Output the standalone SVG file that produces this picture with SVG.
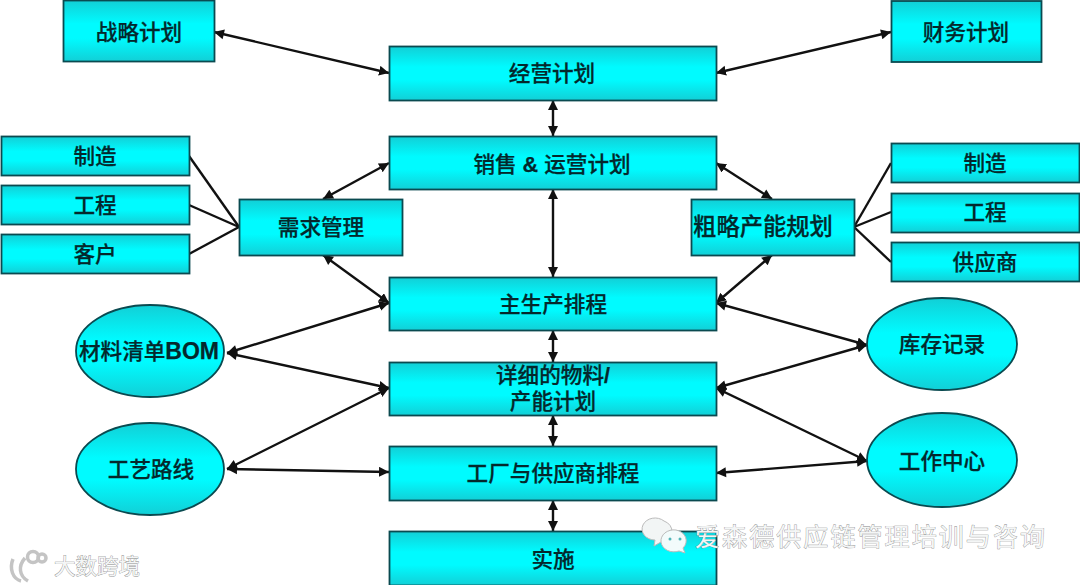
<svg xmlns="http://www.w3.org/2000/svg" width="1080" height="585" viewBox="0 0 1080 585">
<style>
.n{fill:url(#g);stroke:#0a4a50;stroke-width:1.8}
.t{font-family:"Liberation Sans","Noto Sans CJK SC",sans-serif;font-size:21.600px;font-weight:500;fill:#04282c;text-anchor:middle;stroke:#04282c;stroke-width:.25}
.b{font-weight:700}
.c line{stroke:#111;stroke-width:2.400}
.a{marker-start:url(#ms);marker-end:url(#me)}
.w{font-family:"Noto Sans CJK SC",sans-serif;font-size:25px;fill:#f4f6f6;stroke:#8a8a8a;stroke-width:.7;paint-order:stroke}
</style>
<defs>
<linearGradient id="g" x1="0" y1="0" x2="0" y2="1"><stop offset="0" stop-color="#12cfd6"/><stop offset=".38" stop-color="#00fbff"/><stop offset=".62" stop-color="#00fbff"/><stop offset="1" stop-color="#12cfd6"/></linearGradient>
<marker id="me" markerUnits="userSpaceOnUse" markerWidth="12" markerHeight="12" refX="10" refY="5" orient="auto"><path d="M0 0L10 5L0 10Z" fill="#111"/></marker>
<marker id="ms" markerUnits="userSpaceOnUse" markerWidth="12" markerHeight="12" refX="0" refY="5" orient="auto"><path d="M10 0L0 5L10 10Z" fill="#111"/></marker>
</defs>
<rect width="1080" height="585" fill="#fff"/>
<g class="c" id="connectors">
<line class="a" x1="214" y1="32" x2="389" y2="73"/>
<line class="a" x1="891" y1="32" x2="716" y2="73"/>
<line class="a" x1="553" y1="100" x2="553" y2="136"/>
<line class="a" x1="553" y1="189" x2="553" y2="277"/>
<line class="a" x1="553" y1="330" x2="553" y2="362"/>
<line class="a" x1="553" y1="415" x2="553" y2="446"/>
<line class="a" x1="553" y1="500" x2="553" y2="531"/>
<line class="a" x1="323" y1="199" x2="389" y2="163"/>
<line class="a" x1="772" y1="199" x2="716" y2="163"/>
<line class="a" x1="323" y1="255" x2="389" y2="303"/>
<line class="a" x1="772" y1="255" x2="716" y2="303"/>
<line x1="189" y1="156" x2="239" y2="227"/>
<line x1="189" y1="205" x2="239" y2="227"/>
<line x1="189" y1="254" x2="239" y2="227"/>
<line x1="854" y1="227" x2="891" y2="163"/>
<line x1="854" y1="227" x2="891" y2="212"/>
<line x1="854" y1="227" x2="891" y2="262"/>
<line class="a" x1="227" y1="353" x2="389" y2="303"/>
<line class="a" x1="227" y1="353" x2="389" y2="388"/>
<line class="a" x1="227" y1="469" x2="389" y2="388"/>
<line class="a" x1="227" y1="469" x2="389" y2="472"/>
<line class="a" x1="716" y1="303" x2="867" y2="345"/>
<line class="a" x1="716" y1="388" x2="867" y2="345"/>
<line class="a" x1="716" y1="388" x2="867" y2="461"/>
<line class="a" x1="716" y1="473" x2="867" y2="461"/>
</g>
<g id="n1"><rect class="n" x="63.500" y="0.500" width="151" height="61"/><text class="t" x="139" y="40">战略计划</text></g>
<g id="n2"><rect class="n" x="891.500" y="1" width="150" height="61"/><text class="t" x="966" y="40">财务计划</text></g>
<g id="n3"><rect class="n" x="389.500" y="46.500" width="327" height="54"/><text class="t" x="552" y="81">经营计划</text></g>
<g id="n4"><rect class="n" x="389.500" y="136.500" width="327" height="53"/><text class="t" x="552" y="172">销售 <tspan class="b">&amp;</tspan> 运营计划</text></g>
<g id="n5"><rect class="n" x="239.500" y="199.500" width="163" height="56"/><text class="t" x="321" y="235">需求管理</text></g>
<g id="n6"><rect class="n" x="691.500" y="199.500" width="163" height="56"/><text class="t" x="763" y="235" style="font-size:23.300px">粗略产能规划</text></g>
<g id="n7"><rect class="n" x="1.500" y="136.500" width="188" height="39"/><text class="t" x="95" y="164">制造</text></g>
<g id="n8"><rect class="n" x="1.500" y="185.500" width="188" height="39"/><text class="t" x="95" y="213">工程</text></g>
<g id="n9"><rect class="n" x="1.500" y="234.500" width="188" height="39"/><text class="t" x="95" y="262">客户</text></g>
<g id="n10"><rect class="n" x="891.500" y="143.500" width="188" height="39"/><text class="t" x="985" y="171">制造</text></g>
<g id="n11"><rect class="n" x="891.500" y="193.500" width="188" height="39"/><text class="t" x="985" y="220">工程</text></g>
<g id="n12"><rect class="n" x="891.500" y="242.500" width="188" height="39"/><text class="t" x="985" y="270">供应商</text></g>
<g id="n13"><rect class="n" x="389.500" y="277.500" width="327" height="53"/><text class="t" x="553" y="312">主生产排程</text></g>
<g id="n14"><rect class="n" x="389.500" y="362.500" width="327" height="53"/><text class="t" x="553" y="383">详细的物料<tspan class="b">/</tspan><tspan x="553" dy="26">产能计划</tspan></text></g>
<g id="n15"><rect class="n" x="389.500" y="446.500" width="327" height="54"/><text class="t" x="553" y="481">工厂与供应商排程</text></g>
<g id="n16"><rect class="n" x="389.500" y="531.500" width="327" height="54"/><text class="t" x="553" y="567">实施</text></g>
<g id="n17"><ellipse class="n" cx="150" cy="351" rx="74" ry="46"/><text class="t" x="149" y="359">材料清单<tspan class="b" style="font-size:23px">BOM</tspan></text></g>
<g id="n18"><ellipse class="n" cx="150" cy="469" rx="74" ry="46"/><text class="t" x="151" y="477">工艺路线</text></g>
<g id="n19"><ellipse class="n" cx="942" cy="344" rx="75" ry="46"/><text class="t" x="942" y="352">库存记录</text></g>
<g id="n20"><ellipse class="n" cx="942" cy="460" rx="75" ry="47"/><text class="t" x="942" y="469">工作中心</text></g>
<g id="wm1">
<g fill="none" stroke="#c4c4c4" stroke-width="3.500"><path d="M13 559c-4 10 0 20 8 22"/><path d="M25 558c-7 8-6 18 3 23"/><circle cx="33" cy="557" r="5.500"/><circle cx="42" cy="558" r="4"/></g>
<text class="w" x="54" y="574" style="font-size:21.500px">大数跨境</text>
</g>
<g id="wm2">
<path d="M664 521a13 11 0 1 0-9 19l-1 6 7-4a13 11 0 0 0 3-21z" fill="#f2f5f5" stroke="#bbb"/>
<path d="M676 530a13 11 0 1 0 3 21l6 2-2-5a13 11 0 0 0-7-18z" fill="#f2fbfb" stroke="#bbb"/>
<circle cx="670" cy="539" r="1.500" fill="#50b5b8"/><circle cx="680" cy="539" r="1.500" fill="#50b5b8"/>
<text class="w" x="695" y="546" textLength="350">爱森德供应链管理培训与咨询</text>
</g>
</svg>
